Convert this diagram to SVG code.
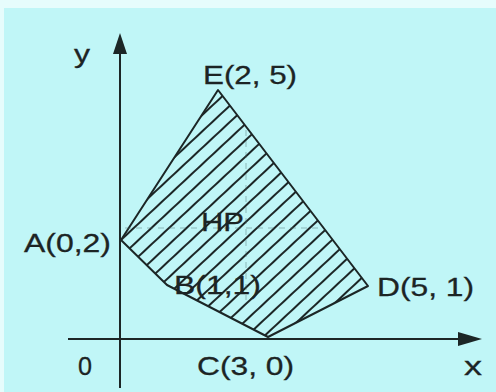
<svg xmlns="http://www.w3.org/2000/svg" width="496" height="392" viewBox="0 0 496 392">
<style>
.lbl{font-family:"Liberation Sans",Arial,sans-serif;font-size:26px;fill:#1c2424;stroke:#1c2424;stroke-width:0.3}
.ax{stroke:#1c2626;stroke-width:2;fill:none}
.edge{stroke:#1c2626;stroke-width:2;fill:none;stroke-linejoin:round}
.faint{stroke:#4a6a6a;stroke-width:1;stroke-dasharray:6 5;opacity:.45;fill:none}
</style>
<defs>
<pattern id="hatch" patternUnits="userSpaceOnUse" width="24" height="12" patternTransform="rotate(-43)">
<line x1="-5" y1="6" x2="29" y2="6" stroke="#1c2626" stroke-width="1.8"/>
</pattern>
</defs>
<rect x="0" y="0" width="496" height="392" fill="#e6fcfc"/>
<rect x="4" y="8" width="492" height="384" fill="#c0f6f7"/>
<g id="region">
<polygon points="218,90 121,240 167,285 268,337 368,286" fill="url(#hatch)"/>
<polygon class="edge" points="218,90 121,240 167,285 268,337 368,286"/>
</g>
<g id="guides">
<line class="faint" x1="125" y1="228" x2="323" y2="228"/>
<line class="faint" x1="246" y1="130" x2="246" y2="300"/>
</g>
<g id="axes">
<line class="ax" x1="120" y1="388" x2="120" y2="50"/>
<polygon points="120,33 113,54 127,54" fill="#1c2626"/>
<line class="ax" x1="68" y1="339" x2="462" y2="339"/>
<polygon points="482,339 458,332 458,346" fill="#1c2626"/>
</g>
<g id="labels">
<text class="lbl" x="74" y="63" textLength="16" lengthAdjust="spacingAndGlyphs">y</text>
<text class="lbl" x="203" y="84" textLength="94" lengthAdjust="spacingAndGlyphs">E(2, 5)</text>
<text class="lbl" x="24" y="252" textLength="87" lengthAdjust="spacingAndGlyphs">A(0,2)</text>
<text class="lbl" x="201" y="231" textLength="43" lengthAdjust="spacingAndGlyphs">HP</text>
<text class="lbl" x="174" y="294" textLength="87" lengthAdjust="spacingAndGlyphs">B(1,1)</text>
<text class="lbl" x="377" y="296" textLength="97" lengthAdjust="spacingAndGlyphs">D(5, 1)</text>
<text class="lbl" x="78" y="375" textLength="14" lengthAdjust="spacingAndGlyphs">0</text>
<text class="lbl" x="197" y="375" textLength="97" lengthAdjust="spacingAndGlyphs">C(3, 0)</text>
<text class="lbl" x="464" y="375" textLength="18" lengthAdjust="spacingAndGlyphs">x</text>
</g>
</svg>
